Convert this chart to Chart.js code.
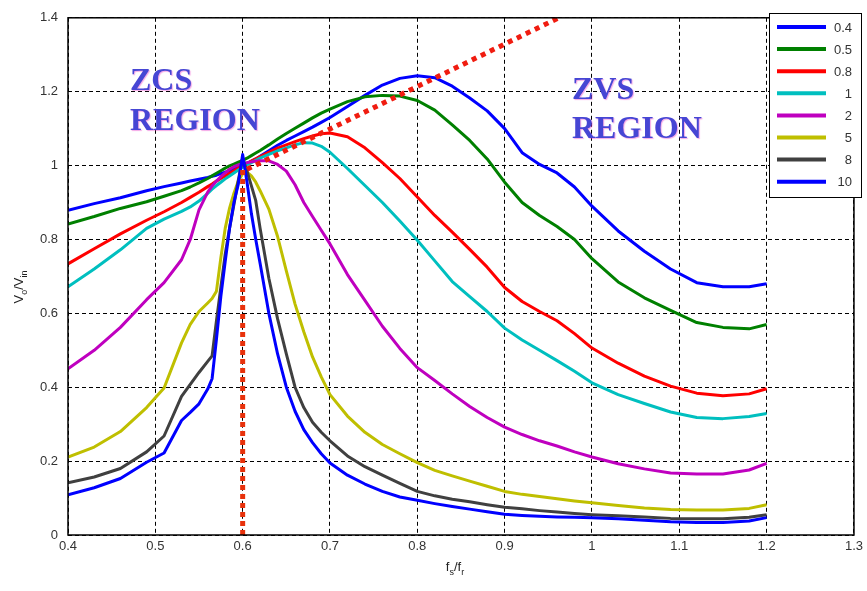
<!DOCTYPE html>
<html>
<head>
<meta charset="utf-8">
<script src="https://cdn.jsdelivr.net/npm/chart.js@4.4.1/dist/chart.umd.min.js"></script>
<style>
  body { margin: 0; background: #fff; }
  canvas { display: block; }
</style>
</head>
<body>
<canvas id="gainChart" width="867" height="591"></canvas>
<script>
// normalized switching frequency fs/fr (shared by every curve)
const fRatio = [
  0.40, 0.43, 0.46, 0.49, 0.51, 0.53, 0.54, 0.55, 0.56, 0.565,
  0.57, 0.575, 0.58, 0.585, 0.59, 0.595, 0.60, 0.605, 0.61, 0.615,
  0.62, 0.63, 0.64, 0.65, 0.66, 0.67, 0.68, 0.69, 0.70, 0.72,
  0.74, 0.76, 0.78, 0.80, 0.82, 0.84, 0.86, 0.88, 0.90, 0.92,
  0.94, 0.96, 0.98, 1.00, 1.03, 1.06, 1.09, 1.12, 1.15, 1.18, 1.20
];

// quality factor of each curve
const qLabels = ["0.4", "0.5", "0.8", "1", "2", "5", "8", "10"];

// voltage gain Vo/Vin for each Q
const gainQ04 = [
  0.879, 0.897, 0.913, 0.932, 0.943, 0.953, 0.958, 0.963, 0.968, 0.971,
  0.974, 0.978, 0.982, 0.986, 0.990, 0.995, 1.000, 1.006, 1.012, 1.018,
  1.025, 1.040, 1.055, 1.068, 1.080, 1.092, 1.104, 1.117, 1.130, 1.160,
  1.190, 1.218, 1.236, 1.243, 1.238, 1.215, 1.183, 1.148, 1.100, 1.035,
  1.003, 0.980, 0.942, 0.890, 0.823, 0.768, 0.720, 0.683, 0.672, 0.672, 0.680
];
const gainQ05 = [
  0.842, 0.862, 0.884, 0.902, 0.917, 0.932, 0.942, 0.953, 0.965, 0.972,
  0.979, 0.986, 0.993, 0.999, 1.004, 1.009, 1.014, 1.020, 1.027, 1.034,
  1.041, 1.056, 1.072, 1.087, 1.101, 1.115, 1.129, 1.142, 1.153, 1.173,
  1.186, 1.190, 1.188, 1.176, 1.150, 1.110, 1.068, 1.018, 0.955, 0.900,
  0.865, 0.835, 0.800, 0.748, 0.685, 0.642, 0.608, 0.575, 0.562, 0.558, 0.570
];
const gainQ08 = [
  0.734, 0.775, 0.815, 0.852, 0.875, 0.900, 0.914, 0.928, 0.943, 0.950,
  0.958, 0.965, 0.972, 0.979, 0.986, 0.993, 1.000, 1.006, 1.012, 1.018,
  1.024, 1.036, 1.047, 1.056, 1.065, 1.073, 1.080, 1.086, 1.088, 1.078,
  1.048, 1.008, 0.965, 0.915, 0.865, 0.820, 0.773, 0.725, 0.670, 0.632,
  0.605, 0.580, 0.545, 0.506, 0.465, 0.430, 0.403, 0.384, 0.377, 0.382, 0.396
];
const gainQ1 = [
  0.672, 0.720, 0.772, 0.830, 0.855, 0.876, 0.888, 0.904, 0.925, 0.936,
  0.946, 0.955, 0.964, 0.972, 0.980, 0.988, 0.995, 1.002, 1.008, 1.014,
  1.020, 1.030, 1.040, 1.048, 1.056, 1.062, 1.061, 1.052, 1.036, 0.992,
  0.946, 0.900, 0.850, 0.798, 0.742, 0.686, 0.645, 0.605, 0.560, 0.528,
  0.500, 0.472, 0.443, 0.412, 0.380, 0.356, 0.333, 0.318, 0.315, 0.321, 0.329
];
const gainQ2 = [
  0.450, 0.500, 0.562, 0.637, 0.683, 0.745, 0.800, 0.880, 0.928, 0.945,
  0.958, 0.970, 0.980, 0.990, 0.997, 1.002, 1.005, 1.008, 1.010, 1.012,
  1.013, 1.013, 1.003, 0.985, 0.948, 0.900, 0.862, 0.825, 0.788, 0.705,
  0.635, 0.565, 0.505, 0.453, 0.418, 0.382, 0.348, 0.318, 0.292, 0.272,
  0.255, 0.241, 0.225, 0.211, 0.193, 0.179, 0.168, 0.165, 0.165, 0.176, 0.194
];
const gainQ5 = [
  0.211, 0.238, 0.280, 0.345, 0.398, 0.520, 0.570, 0.605, 0.628, 0.640,
  0.660, 0.750, 0.830, 0.885, 0.925, 0.958, 0.978, 0.982, 0.972, 0.955,
  0.932, 0.882, 0.808, 0.715, 0.625, 0.550, 0.482, 0.428, 0.380, 0.322,
  0.278, 0.245, 0.220, 0.196, 0.175, 0.160, 0.146, 0.132, 0.118, 0.110,
  0.104, 0.098, 0.092, 0.087, 0.080, 0.073, 0.069, 0.068, 0.068, 0.072, 0.082
];
const gainQ8 = [
  0.141, 0.157, 0.180, 0.225, 0.268, 0.375, 0.408, 0.440, 0.470, 0.485,
  0.580, 0.670, 0.760, 0.830, 0.895, 0.960, 1.020, 0.985, 0.945, 0.905,
  0.830, 0.695, 0.585, 0.490, 0.400, 0.345, 0.305, 0.278, 0.255, 0.214,
  0.185, 0.162, 0.140, 0.118, 0.106, 0.097, 0.090, 0.082, 0.075, 0.071,
  0.066, 0.062, 0.058, 0.055, 0.052, 0.049, 0.045, 0.044, 0.044, 0.048, 0.055
];
const gainQ10 = [
  0.109, 0.128, 0.153, 0.197, 0.222, 0.310, 0.332, 0.355, 0.395, 0.423,
  0.530, 0.645, 0.740, 0.830, 0.900, 0.950, 1.030, 0.955, 0.870, 0.800,
  0.735, 0.600, 0.490, 0.400, 0.335, 0.285, 0.250, 0.220, 0.195, 0.162,
  0.138, 0.118, 0.103, 0.094, 0.085, 0.077, 0.070, 0.063, 0.056, 0.053,
  0.051, 0.049, 0.048, 0.047, 0.044, 0.040, 0.036, 0.034, 0.034, 0.038, 0.047
];

// resonance marker and ZCS/ZVS boundary
const resonanceX = [0.6, 0.6];
const resonanceY = [0, 0.99];
const boundaryX = [0.605, 0.962];
const boundaryY = [0.99, 1.4];

// axes
const xTickValues = [0.4, 0.5, 0.6, 0.7, 0.8, 0.9, 1.0, 1.1, 1.2, 1.3];
const xTickLabels = ["0.4", "0.5", "0.6", "0.7", "0.8", "0.9", "1", "1.1", "1.2", "1.3"];
const yTickValues = [0, 0.2, 0.4, 0.6, 0.8, 1.0, 1.2, 1.4];
const yTickLabels = ["0", "0.2", "0.4", "0.6", "0.8", "1", "1.2", "1.4"];

const gains = [gainQ04, gainQ05, gainQ08, gainQ1, gainQ2, gainQ5, gainQ8, gainQ10];
const curveColors = ["#0000ff", "#008000", "#ff0000", "#00bfbf", "#bf00bf", "#bfbf00", "#404040", "#0000ff"];

const toPoints = (xs, ys) => xs.map((x, i) => ({ x: x, y: ys[i] }));

const datasets = [
  {
    label: "boundary",
    data: toPoints(boundaryX, boundaryY),
    borderColor: "#f01c10",
    borderWidth: 5,
    borderDash: [5, 5],
    order: 0,
  },
  {
    label: "resonance",
    data: toPoints(resonanceX, resonanceY),
    borderColor: "#e8320c",
    borderWidth: 5,
    borderDash: [5, 4],
    order: 0,
  },
];
gains.forEach((g, i) => {
  datasets.push({
    label: qLabels[i],
    data: toPoints(fRatio, g),
    borderColor: curveColors[i],
    borderWidth: 3,
    // later Q values sit on top, like the original plot order
    order: 20 - i,
  });
});

function drawSubText(ctx, parts, x, y, align) {
  // parts: [text, isSub]
  const big = '13px "Liberation Sans", Arial, sans-serif';
  const small = '9px "Liberation Sans", Arial, sans-serif';
  let total = 0;
  parts.forEach(([t, sub]) => {
    ctx.font = sub ? small : big;
    total += ctx.measureText(t).width;
  });
  let cx = align === "center" ? x - total / 2 : x;
  parts.forEach(([t, sub]) => {
    ctx.font = sub ? small : big;
    ctx.fillText(t, cx, sub ? y + 4 : y);
    cx += ctx.measureText(t).width;
  });
}

const decorations = {
  id: "decorations",
  afterDraw(chart) {
    const ctx = chart.ctx;
    const a = chart.chartArea;
    ctx.save();

    // plot frame
    ctx.strokeStyle = "#000";
    ctx.lineWidth = 1.5;
    ctx.setLineDash([]);
    ctx.strokeRect(a.left, a.top, a.right - a.left, a.bottom - a.top);

    // region labels
    ctx.font = 'bold 32px "Liberation Serif", "Times New Roman", serif';
    ctx.textAlign = "left";
    ctx.textBaseline = "alphabetic";
    ctx.shadowColor = "rgba(230, 60, 200, 0.45)";
    ctx.shadowOffsetX = 1;
    ctx.shadowOffsetY = 1;
    ctx.shadowBlur = 1;
    ctx.fillStyle = "#4646d4";
    ctx.fillText("ZCS", 130, 90);
    ctx.fillText("REGION", 130, 130);
    ctx.fillText("ZVS", 572, 99);
    ctx.fillText("REGION", 572, 138);
    ctx.shadowColor = "transparent";

    // legend box
    const lx = 769, ly = 13, lw = 92, lh = 184;
    ctx.fillStyle = "#fff";
    ctx.fillRect(lx, ly, lw, lh);
    ctx.strokeStyle = "#000";
    ctx.lineWidth = 1;
    ctx.strokeRect(lx + 0.5, ly + 0.5, lw, lh);
    ctx.font = '13px "Liberation Sans", Arial, sans-serif';
    ctx.textAlign = "right";
    ctx.textBaseline = "middle";
    qLabels.forEach((q, i) => {
      const yy = 27 + i * 22.1;
      ctx.strokeStyle = curveColors[i];
      ctx.lineWidth = 4;
      ctx.beginPath();
      ctx.moveTo(777, yy);
      ctx.lineTo(826, yy);
      ctx.stroke();
      ctx.fillStyle = "#333";
      ctx.fillText(q, 852, yy + 1);
    });

    // axis titles with subscripts
    ctx.fillStyle = "#222";
    ctx.textAlign = "left";
    ctx.textBaseline = "alphabetic";
    drawSubText(ctx, [["f", false], ["s", true], ["/f", false], ["r", true]], 455, 571, "center");
    ctx.translate(23, 287);
    ctx.rotate(-Math.PI / 2);
    drawSubText(ctx, [["V", false], ["o", true], ["/V", false], ["in", true]], 0, 0, "center");

    ctx.restore();
  },
};

new Chart(document.getElementById("gainChart"), {
  type: "line",
  data: { datasets: datasets },
  plugins: [decorations],
  options: {
    responsive: false,
    animation: false,
    devicePixelRatio: 1,
    layout: { padding: { top: 14, right: 11, left: 0, bottom: 0 } },
    elements: {
      point: { radius: 0 },
      line: { tension: 0, borderCapStyle: "butt", borderJoinStyle: "round" },
    },
    plugins: {
      legend: { display: false },
      tooltip: { enabled: false },
    },
    scales: {
      x: {
        type: "linear",
        min: 0.4,
        max: 1.3,
        afterBuildTicks: (s) => { s.ticks = xTickValues.map((v) => ({ value: v })); },
        afterFit: (s) => { s.height = 56; },
        ticks: {
          callback: (v, i) => xTickLabels[i],
          color: "#333",
          font: { family: '"Liberation Sans", Arial, sans-serif', size: 13 },
          padding: 4,
          maxRotation: 0,
        },
        grid: { color: "#000", lineWidth: 1, drawTicks: false },
        border: { display: false, dash: [4, 3] },
      },
      y: {
        type: "linear",
        min: 0,
        max: 1.4,
        afterBuildTicks: (s) => { s.ticks = yTickValues.map((v) => ({ value: v })); },
        afterFit: (s) => { s.width = 68; },
        ticks: {
          callback: (v, i) => yTickLabels[i],
          color: "#333",
          font: { family: '"Liberation Sans", Arial, sans-serif', size: 13 },
          padding: 10,
        },
        grid: { color: "#000", lineWidth: 1, drawTicks: false },
        border: { display: false, dash: [4, 3] },
      },
    },
  },
});
</script>
</body>
</html>
